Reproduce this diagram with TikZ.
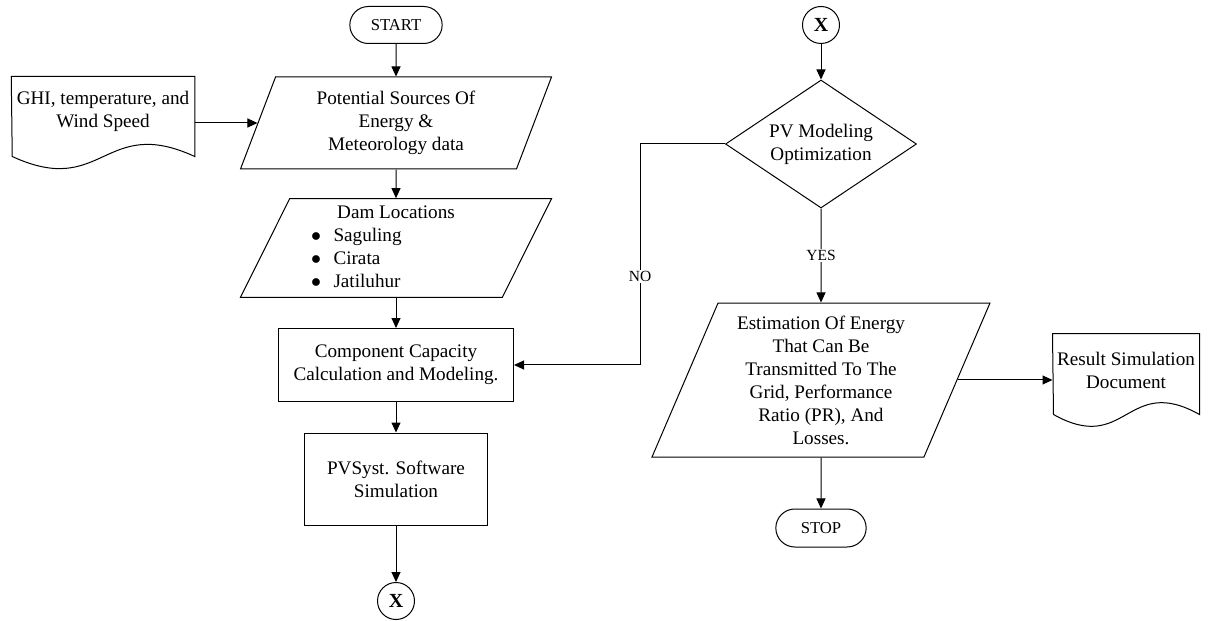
\documentclass[tikz,border=0pt]{standalone}
\usepackage{fontspec}
\setmainfont{Liberation Serif}
\usetikzlibrary{shapes.geometric,shapes.misc,arrows.meta}

\begin{document}
\begin{tikzpicture}[x=0.6pt,y=-0.6pt,line width=0.6pt,
    every node/.style={font=\rmfamily\fontsize{11.5}{13.8}\selectfont, align=center, inner sep=2pt},
    term/.style={draw, rounded rectangle, minimum width=59.4pt, minimum height=22.2pt, font=\rmfamily\fontsize{10}{12}\selectfont},
    io/.style={draw, trapezium, trapezium left angle=63.5, trapezium right angle=116.5, trapezium stretches body},
    proc/.style={draw, rectangle},
    conn/.style={draw, circle, minimum size=22.2pt, inner sep=0pt, font=\rmfamily\fontsize{12}{14}\selectfont\bfseries},
    decide/.style={draw, diamond, aspect=1.5},
    doc/.style={rectangle, inner sep=0pt},
    lbl/.style={fill=white, inner sep=1pt, font=\rmfamily\fontsize{9.3}{11}\selectfont},
    flow/.style={-{Triangle[length=6pt,width=5.4pt]}}]
  \useasboundingbox (0,0) rectangle (1209,621);

  % left column
  \node[term] (start) at (396,25) {START};
  \node[doc, minimum width=109.5pt, minimum height=41.4pt] (ghi) at (103,111.5) {GHI, temperature, and\\Wind Speed};
  \node[io, minimum width=186.6pt, minimum height=55.2pt] (pot) at (396,123) {Potential Sources Of\\Energy \&\\Meteorology data};
  \node[io, minimum width=186.6pt, minimum height=55.8pt] (dam) at (396,248) {\begin{tabular}{@{}p{102pt}@{}}\centering Dam Locations\tabularnewline
      \makebox[13.5pt][l]{$\bullet$}Saguling\\
      \makebox[13.5pt][l]{$\bullet$}Cirata\\
      \makebox[13.5pt][l]{$\bullet$}Jatiluhur\end{tabular}};
  \node[proc, minimum width=141pt, minimum height=43.8pt] (comp) at (396,365) {Component Capacity\\Calculation and Modeling.};
  \node[proc, minimum width=109.8pt, minimum height=55.2pt] (pvs) at (396,479) {PVSyst. Software\\Simulation};
  \node[conn] (x1) at (396,601) {X};

  % right column
  \node[conn] (x2) at (821,25) {X};
  \node[decide, minimum width=114.6pt, minimum height=76.8pt] (dec) at (821,144) {PV Modeling\\Optimization};
  \node[io, minimum width=202.8pt, minimum height=92.4pt, trapezium left angle=64, trapezium right angle=116] (est) at (821,380)
    {Estimation Of Energy\\That Can Be\\Transmitted To The\\Grid, Performance\\Ratio (PR), And\\Losses.};
  \node[doc, minimum width=87.6pt, minimum height=43.2pt] (res) at (1126,370) {Result Simulation\\Document};
  \node[term, minimum width=58.2pt, minimum height=22.8pt] (stop) at (821,528) {STOP};
  \coordinate (nobend) at (640,144);

  % document outlines
  \draw (ghi.north west) -- (ghi.north east) -- ++(0,80)
    .. controls +(-91,-42) and +(91,42) .. ++(-182.5,0) -- cycle;
  \draw (res.north west) -- (res.north east) -- ++(0,81)
    .. controls +(-73,-41) and +(73,41) .. ++(-146,0) -- cycle;

  \begin{scope}[flow]
    \draw (start) -- (pot);
    \draw (ghi.east |- pot.west) -- (pot.west);
    \draw (pot) -- (dam);
    \draw (dam) -- (comp);
    \draw (comp) -- (pvs);
    \draw (pvs) -- (x1);
    \draw (x2) -- (dec);
    \draw (dec) -- node[lbl]{YES} (est);
    \draw (dec.west) -- (nobend) |- node[lbl, pos=0.3]{NO} (comp.east);
    \draw (est.east) -- (est.east -| res.west);
    \draw (est) -- (stop);
  \end{scope}
\end{tikzpicture}
\end{document}
